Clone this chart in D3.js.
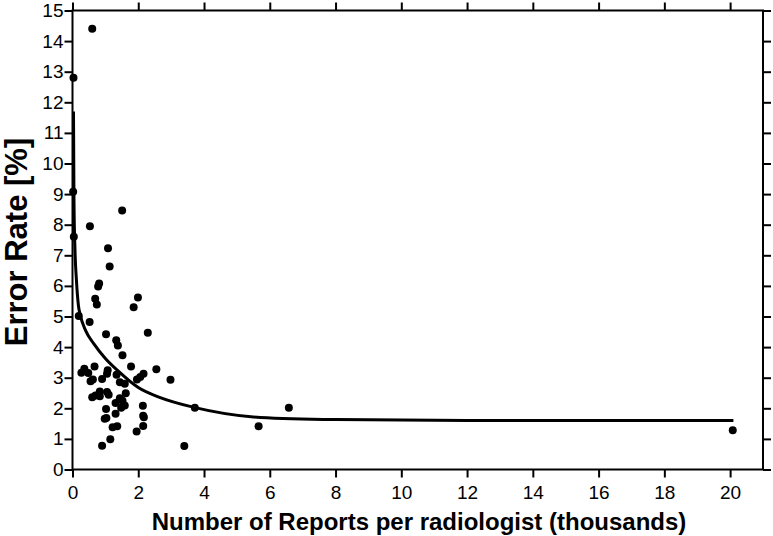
<!DOCTYPE html>
<html><head><meta charset="utf-8">
<script src="https://cdn.jsdelivr.net/npm/d3@7"></script>
<style>
html,body{margin:0;padding:0;background:#fff;}
svg{display:block;}
text{font-family:"Liberation Sans",Arial,sans-serif;fill:#000;}
</style></head>
<body>
<svg id="chart" width="773" height="536"></svg>
<script>
// Scatter data: reports per radiologist (thousands) and error rate (%)
const reportsK = [0.03,0.6,0.02,0.04,0.19,0.53,1.51,1.08,1.13,0.78,0.81,0.69,0.74,1.86,1.99,0.52,1.02,2.29,1.33,1.38,1.52,0.27,0.36,0.48,0.67,0.55,0.62,0.9,1.07,1.05,1.34,1.78,2.16,2.06,1.96,2.55,2.98,1.44,1.59,1.62,0.6,0.7,0.83,0.83,1.05,1.1,1.44,1.52,1.59,1.48,1.31,1.02,2.14,1.31,0.98,1.03,2.15,2.17,1.22,1.36,2.15,1.95,1.15,0.9,3.4,3.72,5.66,6.58,20.08];
const errorRate = [12.8,14.4,9.08,7.61,5.02,7.95,8.46,7.23,6.63,5.98,6.08,5.58,5.39,5.3,5.62,4.82,4.42,4.47,4.22,4.05,3.73,3.16,3.29,3.15,3.37,2.88,2.94,2.96,3.24,3.13,3.1,3.37,3.13,3.02,2.94,3.28,2.93,2.85,2.8,2.49,2.36,2.42,2.55,2.39,2.53,2.44,2.33,2.25,2.09,2.02,2.17,1.98,2.08,1.82,1.66,1.68,1.76,1.71,1.38,1.41,1.42,1.24,0.99,0.78,0.77,2.02,1.41,2.02,1.28];
// Fitted curve
const fitX = [0.03,0.045,0.076,0.12,0.18,0.24,0.40,0.64,1.0,1.37,2.0,2.67,3.7,5.71,8.0,12,16,20.1];
const fitY = [11.7,8.79,7.16,6.18,5.36,5.03,4.54,4.12,3.63,3.24,2.68,2.35,2.03,1.70,1.63,1.60,1.60,1.60];
const xTicks = [0,2,4,6,8,10,12,14,16,18,20];
const yTicks = [0,1,2,3,4,5,6,7,8,9,10,11,12,13,14,15];
const xTitle = "Number of Reports per radiologist (thousands)";
const yTitle = "Error Rate [%]";

const svg = d3.select("#chart");
const L = 72.5, R = 763, T = 10.5, B = 469.5;
const x = d3.scaleLinear().domain([0,21]).range([L,R]);
const y = d3.scaleLinear().domain([0,15]).range([B,T]);

function styleAxis(g, labels){
  g.select(".domain").remove();
  g.selectAll(".tick line").attr("stroke","#000").attr("stroke-width",2);
  g.selectAll(".tick text").style("font-size","19px").style("font-family","Liberation Sans, Arial, sans-serif");
  if(!labels) g.selectAll(".tick text").remove();
}
svg.append("g").attr("transform",`translate(0,${B})`)
  .call(d3.axisBottom(x).tickValues(xTicks).tickSize(8).tickPadding(8).tickFormat(d3.format("d")))
  .call(g=>styleAxis(g,true));
svg.append("g").attr("transform",`translate(0,${T})`)
  .call(d3.axisTop(x).tickValues(xTicks).tickSize(8).tickFormat(""))
  .call(g=>styleAxis(g,false));
svg.append("g").attr("transform",`translate(${L},0)`)
  .call(d3.axisLeft(y).tickValues(yTicks).tickSize(8).tickPadding(1).tickFormat(d3.format("d")))
  .call(g=>styleAxis(g,true));
svg.append("g").attr("transform",`translate(${R},0)`)
  .call(d3.axisRight(y).tickValues(yTicks).tickSize(8).tickFormat(""))
  .call(g=>styleAxis(g,false));

svg.append("rect").attr("x",L).attr("y",T).attr("width",R-L).attr("height",B-T)
  .attr("fill","none").attr("stroke","#000").attr("stroke-width",2);

const pts = reportsK.map((v,i)=>[v,errorRate[i]]);
svg.append("g").selectAll("circle").data(pts).join("circle")
  .attr("cx",d=>x(d[0])).attr("cy",d=>y(d[1])).attr("r",4).attr("fill","#000");

const fit = fitX.map((v,i)=>[v,fitY[i]]);
svg.append("path").datum(fit)
  .attr("d",d3.line().x(d=>x(d[0])).y(d=>y(d[1])).curve(d3.curveMonotoneX))
  .attr("fill","none").attr("stroke","#000").attr("stroke-width",3);

svg.append("text").attr("x",419).attr("y",530).attr("text-anchor","middle")
  .style("font-size","24px").style("font-weight","bold").text(xTitle);
svg.append("text").attr("transform","translate(27,242) rotate(-90)").attr("text-anchor","middle")
  .style("font-size","31px").style("font-weight","bold").text(yTitle);
</script>
</body></html>
